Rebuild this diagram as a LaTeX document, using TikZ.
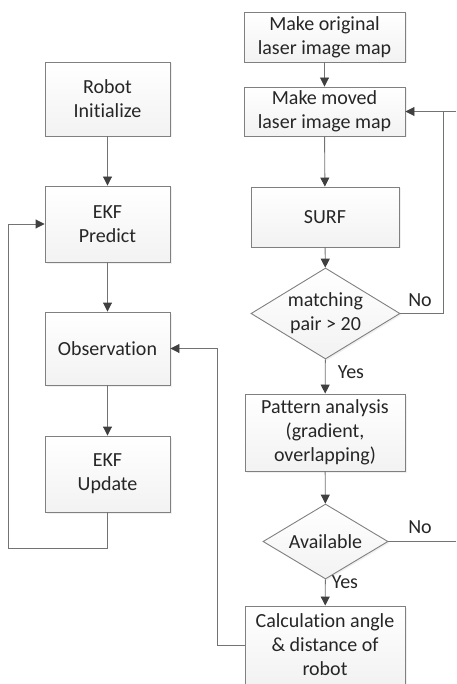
\documentclass[tikz,border=0pt]{standalone}
\usepackage{fontspec}
\setmainfont{Carlito}[Ligatures=NoCommon]
\usetikzlibrary{arrows.meta, shapes.geometric, shadows}

\begin{document}
\begin{tikzpicture}[x=1pt, y=-1pt,
    font=\fontsize{20}{24}\selectfont, text=black!85,
    box/.style={draw=black!50, line width=0.9pt, top color=white, bottom color=black!5,
        drop shadow={opacity=0.12, shadow xshift=1.5pt, shadow yshift=-1.5pt},
        align=center, inner sep=0pt},
    decision/.style={diamond, box, aspect=1.6},
    flow/.style={draw=black!55, line width=0.9pt, -{Triangle[length=9pt, width=9pt, color=black!75]}},
    wire/.style={draw=black!55, line width=0.9pt}]
    \useasboundingbox (0,0) rectangle (456,684);
    % left column
    \node[box, minimum width=125pt, minimum height=74pt] (init) at (107.5,99) {Robot\\Initialize};
    \node[box, minimum width=125pt, minimum height=76pt] (predict) at (107.5,224) {EKF\\Predict};
    \node[box, minimum width=125pt, minimum height=73pt] (obs) at (107.5,348.5) {Observation};
    \node[box, minimum width=125pt, minimum height=76pt] (update) at (107.5,474) {EKF\\Update};
    % right column
    \node[box, minimum width=161pt, minimum height=50pt] (orig) at (324.5,37) {Make original\\laser image map};
    \node[box, minimum width=161pt, minimum height=49pt] (moved) at (324.5,111.5) {Make moved\\laser image map};
    \node[box, minimum width=148pt, minimum height=60pt] (surf) at (325,217) {SURF};
    \node[decision, minimum width=149pt, minimum height=91pt] (match) at (325.5,313.5) {matching\\pair > 20};
    \node[box, minimum width=160pt, minimum height=77pt] (pattern) at (325,432.5) {Pattern analysis\\(gradient,\\overlapping)};
    \node[decision, minimum width=125pt, minimum height=75pt] (avail) at (325.5,541.5) {Available};
    \node[box, minimum width=160pt, minimum height=78pt] (calc) at (325,645) {Calculation angle\\\& distance of\\robot};
    % free ends of the loops
    \coordinate (loopL) at (8,548);
    \coordinate (loopR) at (443,313.5);
    \coordinate (backR) at (217,645);
    \coordinate (edgeT) at (456,111.5);
    \coordinate (edgeB) at (456,541.5);
    % connectors
    \draw[flow] (init) -- (predict);
    \draw[flow] (predict) -- (obs);
    \draw[flow] (obs) -- (update);
    \draw[flow] (update.south) |- (loopL) |- (predict.west);
    \draw[flow] (orig) -- (moved);
    \draw[flow] (moved) -- (surf);
    \draw[flow] (surf) -- (match);
    \draw[flow] (match) -- (pattern);
    \draw[flow] (pattern) -- (avail);
    \draw[flow] (avail) -- (calc);
    \draw[flow] (match.east) -- (loopR) |- (moved.east);
    \draw[wire] (moved.east -| loopR) -- (edgeT);
    \draw[wire] (avail.east) -- (edgeB);
    \draw[flow] (calc.west) -- (backR) |- (obs.east);
    % labels
    \node (no1) at (420,300) {No};
    \node (no2) at (420,527) {No};
    \node (yes1) at (351,372) {Yes};
    \node (yes2) at (345,582) {Yes};
\end{tikzpicture}
\end{document}
